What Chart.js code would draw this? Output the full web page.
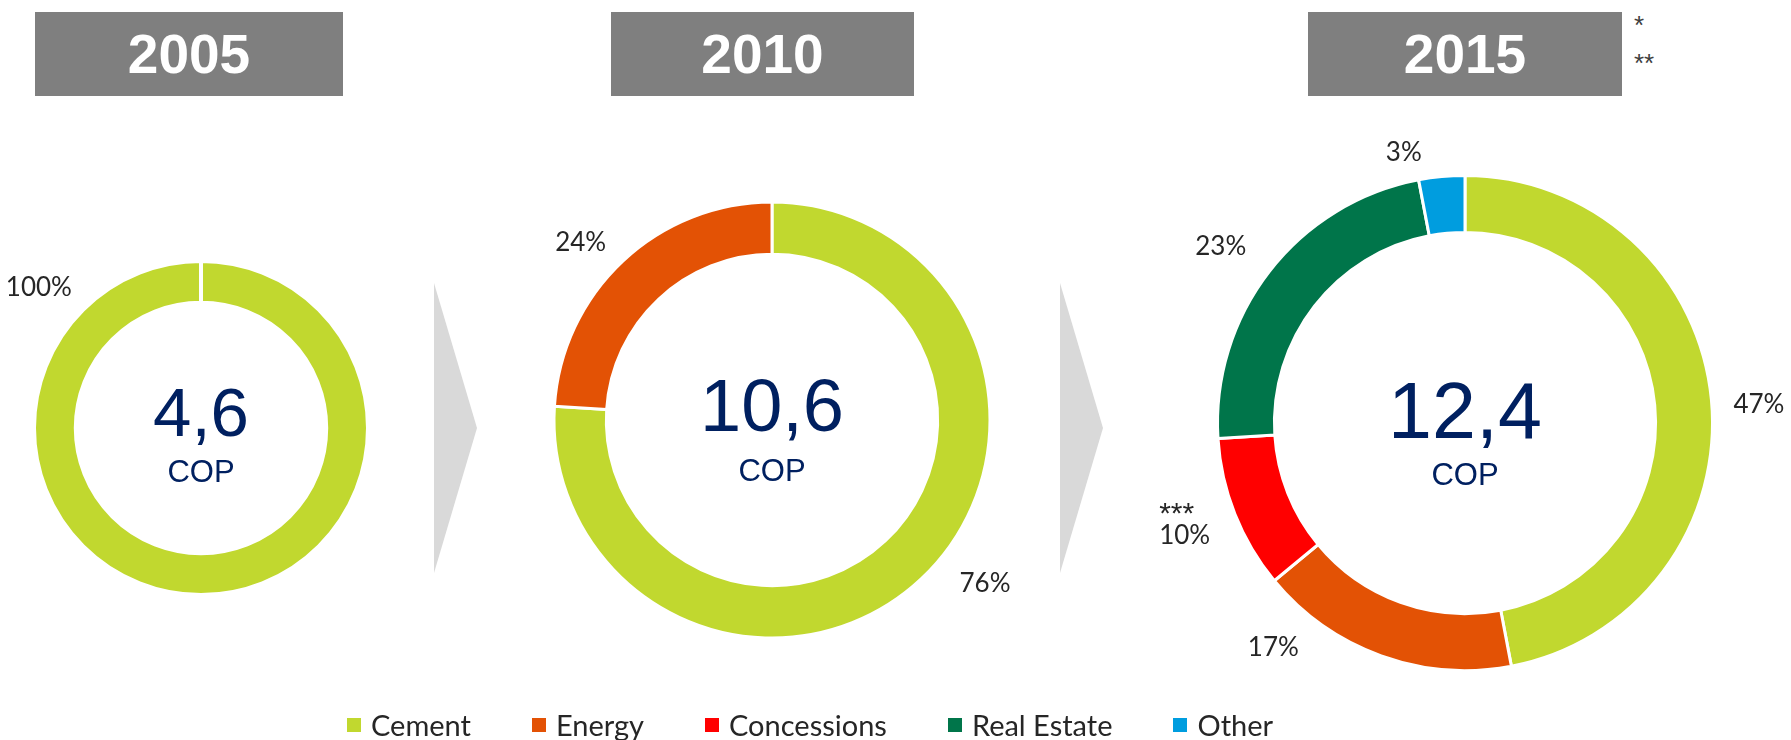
<!DOCTYPE html>
<html>
<head>
<meta charset="utf-8">
<script src="https://cdn.jsdelivr.net/npm/chart.js@4.4.1/dist/chart.umd.min.js"></script>
<style>
  html, body { margin: 0; padding: 0; background: #ffffff; }
  #stage { position: relative; width: 1791px; height: 740px; overflow: hidden; background: #fff; }
  .hdr { position: absolute; top: 12px; height: 84px; background: #7f7f7f; color: #fff;
         font-family: "Liberation Sans", Arial, sans-serif; font-weight: bold; font-size: 55px;
         line-height: 84px; text-align: center; }
  .star { position: absolute; left: 1634px; font-family: "Liberation Sans", Arial, sans-serif; font-size: 26px; color: #404040; line-height: 26px; }
  .wrap { position: absolute; }
  #legend { position: absolute; left: 347px; top: 710px; height: 30px; display: flex; align-items: center; gap: 61px;
            font-family: Lato, "Open Sans", sans-serif; font-size: 29px; color: #262626; line-height: 30px; }
  .li { display: flex; align-items: center; }
  .sw { width: 14px; height: 14px; margin-right: 10px; }
  svg.arrow { position: absolute; top: 0; left: 0; }
</style>
</head>
<body>
<div id="stage">
  <div class="hdr" style="left:35px;width:308px">2005</div>
  <div class="hdr" style="left:611px;width:303px">2010</div>
  <div class="hdr" style="left:1308px;width:314px">2015</div>
  <div class="star" style="top:12px">*</div>
  <div class="star" style="top:50px">**</div>

  <svg class="arrow" width="1791" height="740">
    <polygon points="434,283 477,428 434,573" fill="#d9d9d9"/>
    <polygon points="1060,283 1103,428 1060,573" fill="#d9d9d9"/>
  </svg>

  <div class="wrap" style="left:1px;top:178px;width:400px;height:500px"><canvas id="c2005" width="400" height="500"></canvas></div>
  <div class="wrap" style="left:512px;top:160px;width:520px;height:520px"><canvas id="c2010" width="520" height="520"></canvas></div>
  <div class="wrap" style="left:1140px;top:123px;width:650px;height:600px"><canvas id="c2015" width="650" height="600"></canvas></div>

  <div id="legend"></div>
</div>

<script>
// ---- data ----
const categories = ['Cement', 'Energy', 'Concessions', 'Real Estate', 'Other'];
const years = ['2005', '2010', '2015'];
const totals = ['4,6', '10,6', '12,4'];
const unitLabel = 'COP';
const share2005 = [100];
const share2010 = [76, 24];
const share2015 = [47, 17, 10, 23, 3];
const labelNotes2015 = ['', '', '***', '', ''];

// ---- styles ----
const catColors = { 'Cement': '#c1d82f', 'Energy': '#e35205', 'Concessions': '#ff0000', 'Real Estate': '#00754a', 'Other': '#009ddf' };
Chart.defaults.devicePixelRatio = 1;

const donutPlugin = {
  id: 'donutDecor',
  afterDatasetsDraw(chart, args, opts) {
    const ctx = chart.ctx;
    const meta = chart.getDatasetMeta(0);
    const arcs = meta.data;
    if (!arcs.length) return;
    const a0 = arcs[0];
    const cx = a0.x, cy = a0.y, R = a0.outerRadius, r = a0.innerRadius;
    ctx.save();
    // separator at start for a single full ring
    if (opts.startGap) {
      ctx.strokeStyle = '#ffffff';
      ctx.lineWidth = opts.startGap;
      ctx.beginPath();
      ctx.moveTo(cx, cy - r + 2);
      ctx.lineTo(cx, cy - R - 2);
      ctx.stroke();
    }
    // percentage labels
    const data = chart.data.datasets[0].data;
    const total = data.reduce((s, v) => s + v, 0);
    const fs = opts.labelSize;
    const lblFont = fs + 'px Lato, "Open Sans", sans-serif';
    ctx.font = lblFont;
    ctx.fillStyle = '#262626';
    ctx.textAlign = 'center';
    ctx.textBaseline = 'alphabetic';
    arcs.forEach((arc, i) => {
      const [angDeg, f] = opts.labelPos[i];
      const ang = angDeg * Math.PI / 180;
      const lx = cx + Math.sin(ang) * f * R;
      const ly = cy - Math.cos(ang) * f * R;
      const txt = Math.round(data[i] / total * 100) + '%';
      ctx.fillText(txt, lx, ly + fs * 0.36);
      const note = (opts.notes || [])[i];
      if (note) {
        ctx.font = '30px "Liberation Sans", Arial, sans-serif';
        ctx.fillText(note, lx - 8, ly - 12);
        ctx.font = lblFont;
      }
    });
    // center text
    ctx.fillStyle = '#002060';
    ctx.font = opts.numSize + 'px "Liberation Sans", Arial, sans-serif';
    ctx.fillText(opts.centerText, cx, cy + opts.numDy + opts.numSize * 0.358);
    ctx.font = opts.unitSize + 'px "Liberation Sans", Arial, sans-serif';
    ctx.fillText(unitLabel, cx, cy + opts.unitDy + opts.unitSize * 0.358);
    ctx.restore();
  }
};

function makeDonut(id, cats, values, radiusPx, cutout, decor) {
  return new Chart(document.getElementById(id), {
    type: 'doughnut',
    data: {
      labels: cats,
      datasets: [{
        data: values,
        backgroundColor: cats.map(c => catColors[c]),
        borderColor: '#ffffff',
        borderWidth: 3,
        borderAlign: 'center'
      }]
    },
    options: {
      responsive: false,
      animation: false,
      events: [],
      radius: radiusPx,
      cutout: cutout,
      layout: { padding: 0 },
      plugins: {
        legend: { display: false },
        tooltip: { enabled: false },
        donutDecor: decor
      }
    },
    plugins: [donutPlugin]
  });
}

makeDonut('c2005', categories.slice(0, 1), share2005, 166.5, '75.5%', {
  startGap: 4, labelSize: 26,
  labelPos: [[311, 1.29]],
  centerText: totals[0], numSize: 69, numDy: -17, unitSize: 31, unitDy: 43
});
makeDonut('c2010', categories.slice(0, 2), share2010, 218, '76%', {
  labelSize: 26,
  labelPos: [[127.4, 1.23], [313, 1.2]],
  centerText: totals[1], numSize: 74, numDy: -15, unitSize: 31, unitDy: 50
});
makeDonut('c2015', categories, share2015, 247.5, '77%', {
  labelSize: 26,
  labelPos: [[86.3, 1.19], [220.6, 1.19], [248.2, 1.22], [306, 1.22], [347.3, 1.125]],
  notes: labelNotes2015,
  centerText: totals[2], numSize: 79, numDy: -13, unitSize: 31, unitDy: 51
});

// legend
const lg = document.getElementById('legend');
categories.forEach(c => {
  const it = document.createElement('div');
  it.className = 'li';
  const sw = document.createElement('div');
  sw.className = 'sw';
  sw.style.background = catColors[c];
  const tx = document.createElement('span');
  tx.textContent = c;
  it.appendChild(sw); it.appendChild(tx);
  lg.appendChild(it);
});
</script>
</body>
</html>
